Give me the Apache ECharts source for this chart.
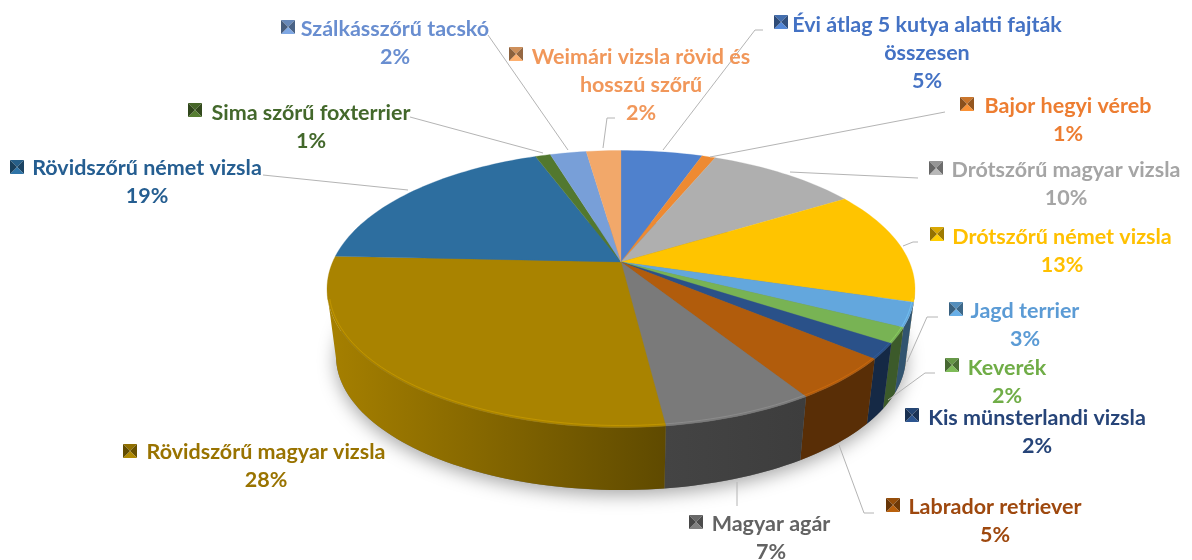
<!DOCTYPE html>
<html><head><meta charset="utf-8">
<style>html,body{margin:0;padding:0;background:#fff}#c{width:1192px;height:560px;filter:blur(0.45px)}</style>
<script src="https://cdn.jsdelivr.net/npm/echarts@6/dist/echarts.min.js"></script>
</head><body><div id="c"></div>
<script>
const categories = ['Évi átlag 5 kutya alatti fajták\nösszesen','Bajor hegyi véreb','Drótszőrű magyar vizsla','Drótszőrű német vizsla','Jagd terrier','Keverék','Kis münsterlandi vizsla','Labrador retriever','Magyar agár','Rövidszőrű magyar vizsla','Rövidszőrű német vizsla','Sima szőrű foxterrier','Szálkásszőrű tacskó','Weimári vizsla rövid és\nhosszú szőrű'];
const values = [5.4,0.9,10,13.3,2.8,1.8,1.8,5,7,27.7,18.6,1,2.4,2.3];
const colors = ['#4f81cd','#ee8a32','#afafaf','#ffc400','#63a7dd','#78b354','#2a5189','#b15c0c','#7a7a7a','#a98300','#2d6e9f','#52782f','#789fd8','#f2a86a'];
const labelColors = ['#4472c4','#ed7d31','#a5a5a5','#ffc000','#5b9bd5','#70ad47','#264478','#9e480e','#636363','#997300','#255e91','#43682b','#698ed0','#f1975a'];

// layout: [label centre x, first line y, key x, key y]
const labelPos = [[927,25,774,15],[1068,106,960,97],[1066,170,929,161],[1062,237,930,227],[1025,311,949,302],[1007,368,945,358],[1037,418,905,408],[995,507,886,498],[771,524,689,515],[266,452,123,444],[147,168,10,160],[311,113,188,103],[395,29,281,20],[641,57,509,47]];
const leaders = [
 [[663,150],[755,30],[763,30]],[[710,157],[945,112]],[[790,172],[918,178]],[[903,246],[913,242],[918,242]],
 [[907,362],[927,317],[938,317]],[[888,400],[925,373],[935,373]],null,[[839,445],[864,513],[874,513]],
 [[737,482],[737,506]],null,[[263,175],[408,190]],[[410,117],[543,153]],[[488,35],[568,150]],[[615,118],[607,118],[603,148]]];

const CX=621, TOPY=289, RX=294, RY=138.5, D=-0.195, BOTY=356, BRX=285, BRY=134;
const total = values.reduce((a,b)=>a+b,0);
const cum = values.reduce((a,v)=>{a.push(a[a.length-1]+v);return a;},[0]);
function unit(frac){const t=frac*2*Math.PI,u=Math.sin(t),v=-Math.cos(t),den=1+D*v;
  return {X:u*Math.sqrt(1-D*D)/den,Y:(v+D)/den};}
const topPt=p=>[CX+RX*p.X,TOPY+RY*p.Y], botPt=p=>[CX+BRX*p.X,BOTY+BRY*p.Y];
function arc(a,b){const n=Math.max(2,Math.ceil((b-a)*240)),o=[];for(let i=0;i<=n;i++)o.push(unit(a+(b-a)*i/n));return o;}
function shade(hex,k){const n=parseInt(hex.slice(1),16),c=[n>>16,(n>>8)&255,n&255].map(x=>Math.min(255,Math.round(x*k)));return 'rgb('+c.join(',')+')';}
function kAt(x){ if(x<667) return 0.98-(x-327)/340*0.42; return Math.max(0.47,0.56-(x-667)/200*0.09); }

function renderSide(params,api){
  const i=api.value(0), a=api.value(1)/total, b=a+api.value(2)/total;
  const pts=arc(a,b).filter(p=>p.Y>=0);
  if(pts.length<2) return;
  const t=pts.map(topPt), bt=pts.map(botPt).reverse();
  const xs=t.map(p=>p[0]), x0=Math.min(...xs), x1=Math.max(...xs);
  const kL=kAt(x0), kR=kAt(x1);
  let k0=kL,k1=kR; if(x0>700){k0=0.5;k1=0.5;}
  return {type:'polygon',shape:{points:t.concat(bt)},style:{fill:{type:'linear',x:0,y:0,x2:1,y2:0,colorStops:[{offset:0,color:shade(colors[i],k0)},{offset:1,color:shade(colors[i],k1)}]},stroke:null}};
}
function renderTop(params,api){
  const i=api.value(0), a=api.value(1)/total, b=a+api.value(2)/total;
  const pts=arc(a,b), apex=[CX,TOPY+RY*D];
  const ch=[{type:'polygon',shape:{points:[apex].concat(pts.map(topPt))},style:{fill:colors[i],stroke:colors[i],lineWidth:0.3}}];
  const rim=pts.filter(p=>p.Y>0.05).map(p=>[CX+(RX-2)*p.X,TOPY+(RY-2)*p.Y]);
  if(rim.length>1) ch.push({type:'polyline',shape:{points:rim},style:{fill:null,stroke:shade(colors[i],1.25),lineWidth:1,opacity:0.55}});
  return {type:'group',children:ch};
}
function renderLabel(params,api){
  const i=api.value(0), pos=labelPos[i], col=labelColors[i];
  const ch=[];
  if(leaders[i]) ch.push({type:'polyline',shape:{points:leaders[i]},style:{fill:null,stroke:'#b4b4b4',lineWidth:1}});
  const kx=pos[2],ky=pos[3],s=14,cx=kx+s/2,cy=ky+s/2;
  const tri=(p,q,k)=>({type:'polygon',shape:{points:[p,q,[cx,cy]]},style:{fill:shade(colors[i],k)}});
  ch.push(tri([kx,ky],[kx+s,ky],0.85),tri([kx+s,ky],[kx+s,ky+s],0.62),tri([kx+s,ky+s],[kx,ky+s],1.05),tri([kx,ky+s],[kx,ky],0.58));
  const txt=categories[i]+'\n'+Math.round(api.value(2)/total*100)+'%';
  ch.push({type:'text',style:{x:pos[0],y:pos[1]-14,text:txt,align:'center',verticalAlign:'top',fill:col,font:'bold 21.5px Lato',lineHeight:28}});
  return {type:'group',children:ch};
}
const rows=values.map((v,i)=>[i,cum[i],v]);
const chart=echarts.init(document.getElementById('c'),null,{renderer:'canvas'});
chart.setOption({
  animation:false,
  backgroundColor:'#fff',
  series:[
    {type:'custom',coordinateSystem:'none',silent:true,z:1,data:[[0]],renderItem:()=>{
      const o=arc(0,1).map(botPt);
      return {type:'polygon',shape:{points:o},style:{fill:'#777',shadowBlur:18,shadowColor:'rgba(0,0,0,0.35)',shadowOffsetY:5}};
    }},
    {type:'custom',coordinateSystem:'none',silent:true,z:2,data:rows,renderItem:renderSide},
    {type:'custom',coordinateSystem:'none',silent:true,z:3,data:rows,renderItem:renderTop},
    {type:'custom',coordinateSystem:'none',silent:true,z:4,data:rows,renderItem:renderLabel}
  ]
});
</script></body></html>
